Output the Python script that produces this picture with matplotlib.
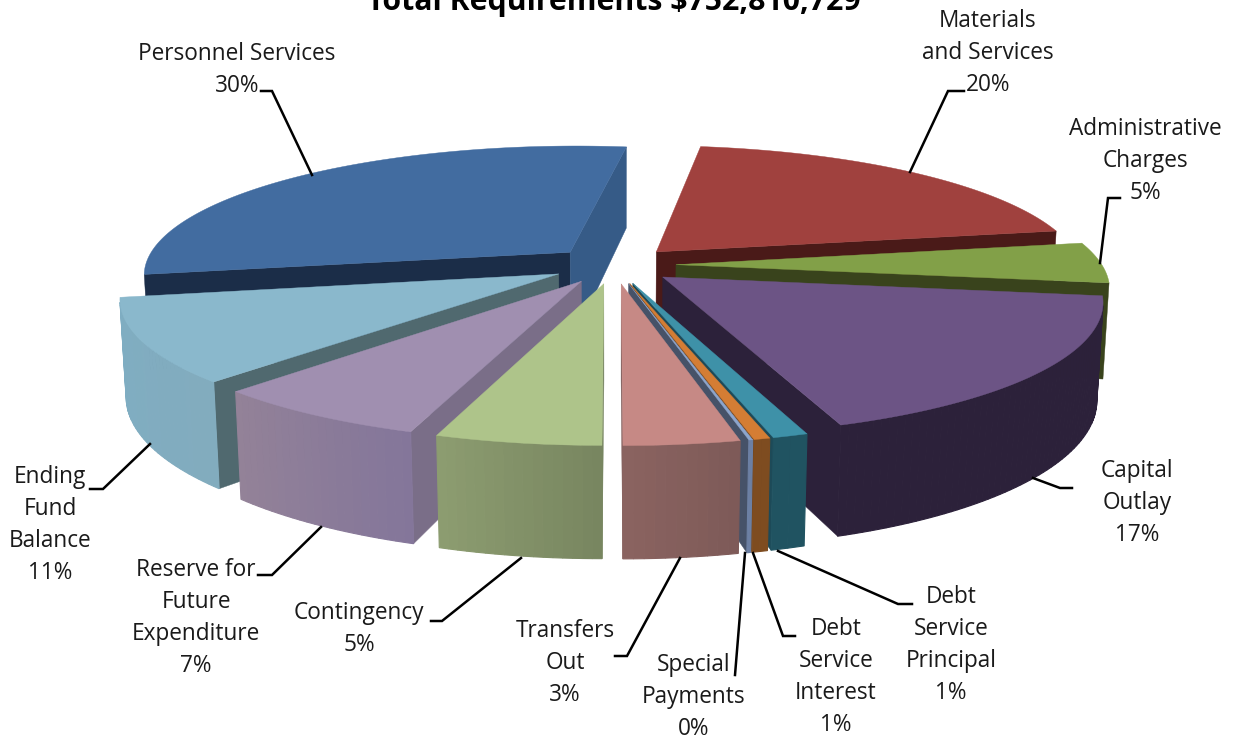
import numpy as np
import matplotlib
matplotlib.use('Agg')
import matplotlib.pyplot as plt
from matplotlib.patches import Polygon

plt.rcParams['font.family'] = ['Open Sans', 'DejaVu Sans']

# Share of each slice, clockwise from the start angle
categories = ['Materials\nand Services', 'Administrative\nCharges', 'Capital\nOutlay',
              'Debt\nService\nPrincipal', 'Debt\nService\nInterest', 'Special\nPayments',
              'Transfers\nOut', 'Contingency', 'Reserve for\nFuture\nExpenditure',
              'Ending\nFund\nBalance', 'Personnel Services']
values = [20.0, 5.0, 17.45, 1.1, 0.5, 0.12, 3.6, 5.15, 6.93, 10.15, 30.0]
percent_labels = ['20%', '5%', '17%', '1%', '1%', '0%', '3%', '5%', '7%', '11%', '30%']
title = 'Total Requirements $752,810,729'

top_colors = ['#A0413E', '#82A048', '#6C5485', '#3E91A8', '#D47D34', '#8CA5CD',
              '#C68985', '#AEC48A', '#A08FB0', '#8AB8CC', '#426CA0']
wall_from = ['#5A2322', '#46541F', '#2C213A', '#205361', '#7E4C20', '#6C80A4',
             '#8A6360', '#8C9C70', '#938298', '#7FADC2', '#345A87']
wall_to = ['#5A2322', '#46541F', '#2C213A', '#205361', '#7E4C20', '#6C80A4',
           '#7E5A58', '#788660', '#84769A', '#82ACBE', '#345A87']
face_start = ['#4A1A18', '#39431C', '#2C213A', '#1D4A58', '#6E4018', '#465268',
              '#7E5A58', '#768460', '#7A6E88', '#50696F', '#1B2D48']
face_end = ['#4A1A18', '#39431C', '#2C213A', '#1D4A58', '#6E4018', '#465268',
            '#7E5A58', '#768460', '#7A6E88', '#50696F', '#365B87']

# Pie geometry, in pixels
cx, cy = 614, 265
radius = 426
explode = 62
height = 100
start_angle = 8
elev = np.arcsin(0.30)
cam_dist = 2450


def project(x, y, z):
    up = y * np.sin(elev) + z * np.cos(elev)
    depth = y * np.cos(elev) - z * np.sin(elev)
    scale = 1 / (1 + depth / cam_dist)
    return cx + x * scale, cy - up * scale


def area(pts):
    pts = np.array(pts)
    x, y = pts[:, 0], pts[:, 1]
    return np.sum(x * np.roll(y, -1) - np.roll(x, -1) * y) / 2


def mix(c0, c1, t):
    a = np.array(matplotlib.colors.to_rgb(c0))
    b = np.array(matplotlib.colors.to_rgb(c1))
    return a + (b - a) * t


def draw_slice(ax, a0, a1, i):
    mid = np.radians((a0 + a1) / 2)
    ox, oy = explode * np.sin(mid), explode * np.cos(mid)
    ang = np.radians(np.linspace(a0, a1, max(int(a1 - a0), 3)))

    def pt(r, a, z):
        return project(ox + r * np.sin(a), oy + r * np.cos(a), z)

    # cut faces and outer wall, only the ones turned to the camera
    start = [pt(0, ang[0], 0), pt(radius, ang[0], 0), pt(radius, ang[0], -height), pt(0, ang[0], -height)]
    end = [pt(radius, ang[-1], 0), pt(0, ang[-1], 0), pt(0, ang[-1], -height), pt(radius, ang[-1], -height)]
    if area(start) < 0:
        ax.add_patch(Polygon(start, fc=face_start[i], ec=face_start[i], lw=0.3))
    if area(end) < 0:
        ax.add_patch(Polygon(end, fc=face_end[i], ec=face_end[i], lw=0.3))
    for j in range(len(ang) - 1):
        quad = [pt(radius, ang[j], 0), pt(radius, ang[j + 1], 0),
                pt(radius, ang[j + 1], -height), pt(radius, ang[j], -height)]
        if area(quad) < 0:
            c = mix(wall_to[i], wall_from[i], j / max(len(ang) - 2, 1))
            ax.add_patch(Polygon(quad, fc=c, ec=c, lw=0.8))

    outline = [pt(0, ang[0], 0)] + [pt(radius, a, 0) for a in ang]
    ax.add_patch(Polygon(outline, fc=top_colors[i], ec=top_colors[i], lw=0.3))


fig = plt.figure(figsize=(12.35, 7.4), dpi=100)
ax = fig.add_axes([0, 0, 1, 1])
ax.set_xlim(0, 1235)
ax.set_ylim(740, 0)
ax.axis('off')

shares = np.array(values) / sum(values) * 360
edges = start_angle + np.concatenate([[0], np.cumsum(shares)])
mids = np.radians((edges[:-1] + edges[1:]) / 2)

# paint the far slices first
for i in np.argsort(-np.cos(mids)):
    draw_slice(ax, edges[i], edges[i + 1], i)

# Leader lines, in the order of the categories
leaders = [
    [(964, 91), (948, 91), (910, 172)],
    [(1120, 198), (1108, 198), (1100, 263)],
    [(1072, 488), (1060, 488), (1033, 478)],
    [(912, 604), (898, 604), (778, 551)],
    [(795, 636), (783, 636), (753, 553)],
    [(735, 675), (745, 553)],
    [(615, 656), (627, 656), (680, 558)],
    [(431, 621), (442, 621), (521, 558)],
    [(258, 575), (272, 575), (321, 527)],
    [(90, 489), (103, 489), (150, 444)],
    [(261, 91), (272, 91), (312, 175)],
]
for line in leaders:
    xs, ys = zip(*line)
    ax.plot(xs, ys, color='black', lw=1.8, solid_joinstyle='miter')

# Label centre x and y of the first line
label_pos = [(988, 21), (1145, 129), (1137, 471), (951, 597), (836, 629), (694, 665),
             (565, 631), (359, 613), (196, 570), (50, 477), (237, 54)]
for cat, pct, (lx, ly) in zip(categories, percent_labels, label_pos):
    for k, txt in enumerate(cat.split('\n') + [pct]):
        ax.text(lx, ly + 32 * k, txt, ha='center', va='center', fontsize=16.3, color='#1a1a1a')

ax.text(614, 2, title, ha='center', va='center', fontsize=21.8, fontweight='bold', color='black')

fig.savefig('out.png', dpi=100)
